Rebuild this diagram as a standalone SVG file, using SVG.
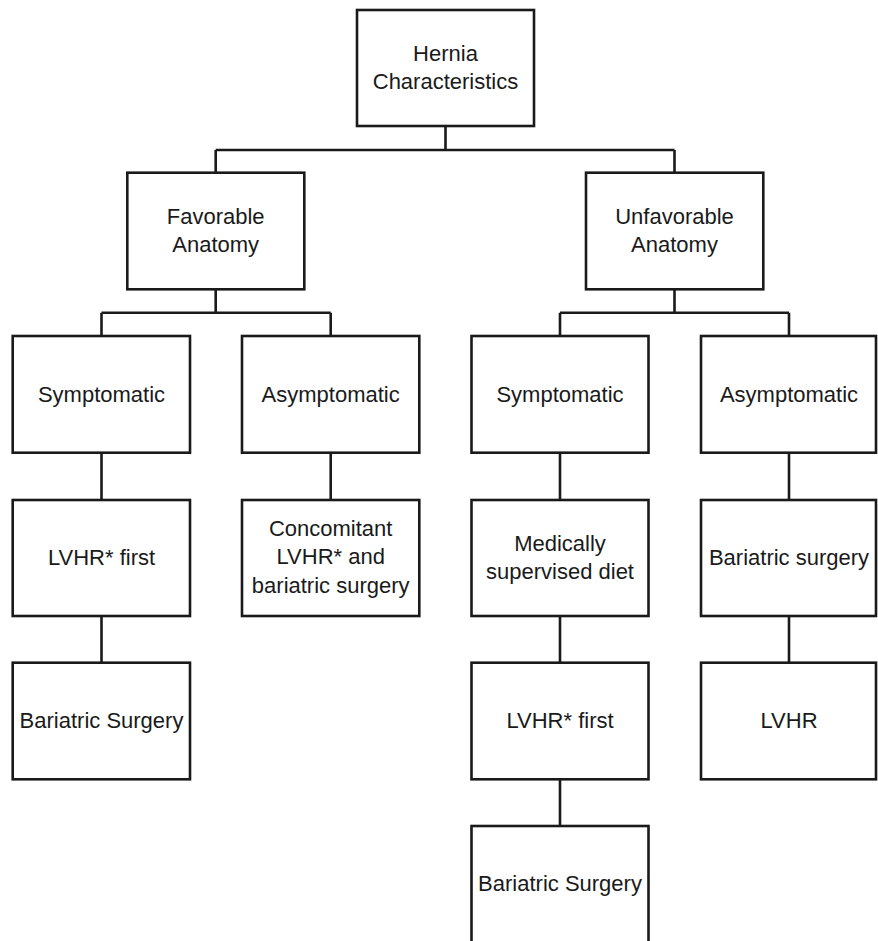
<svg xmlns="http://www.w3.org/2000/svg" width="878" height="941" viewBox="0 0 878 941">
<style>
.box{fill:#fff;stroke:#1a1a1a;stroke-width:2.6}
.t{font-family:"Liberation Sans",Arial,sans-serif;font-size:22px;fill:#1a1a1a;text-anchor:middle}
.c{fill:none;stroke:#1a1a1a;stroke-width:2.6}
</style>
<rect width="878" height="941" fill="#fff"/>
<g id="connectors">
<path class="c" d="M445.5,126 V150 M215.7,150 H674.5 M215.7,150 V172.7 M674.5,150 V172.7"/>
<path class="c" d="M215.7,289.3 V312.7 M101.5,312.7 H330.7 M101.5,312.7 V336 M330.7,312.7 V336"/>
<path class="c" d="M674.5,289.3 V312.7 M560,312.7 H789 M560,312.7 V336 M789,312.7 V336"/>
<path class="c" d="M101.5,452.7 V500 M101.5,616 V662.7"/>
<path class="c" d="M330.7,452.7 V500"/>
<path class="c" d="M560,452.7 V500 M560,616 V662.7 M560,779.3 V826"/>
<path class="c" d="M789,452.7 V500 M789,616 V662.7"/>
</g>
<g id="hernia"><rect class="box" x="357" y="10" width="177" height="116"/><text class="t" x="445.5" y="61">Hernia</text><text class="t" x="445.5" y="89">Characteristics</text></g>
<g id="favorable"><rect class="box" x="127.3" y="172.7" width="177" height="116.6"/><text class="t" x="215.7" y="224">Favorable</text><text class="t" x="215.7" y="252">Anatomy</text></g>
<g id="unfavorable"><rect class="box" x="586" y="172.7" width="177.3" height="116.6"/><text class="t" x="674.5" y="224">Unfavorable</text><text class="t" x="674.5" y="252">Anatomy</text></g>
<g id="fav-symptomatic"><rect class="box" x="12.7" y="336" width="177.3" height="116.7"/><text class="t" x="101.5" y="401.5">Symptomatic</text></g>
<g id="fav-asymptomatic"><rect class="box" x="242" y="336" width="177.3" height="116.7"/><text class="t" x="330.7" y="401.5">Asymptomatic</text></g>
<g id="unf-symptomatic"><rect class="box" x="471.5" y="336" width="177" height="116.7"/><text class="t" x="560" y="401.5">Symptomatic</text></g>
<g id="unf-asymptomatic"><rect class="box" x="701" y="336" width="175" height="116.7"/><text class="t" x="789" y="401.5">Asymptomatic</text></g>
<g id="fav-lvhr-first"><rect class="box" x="12.7" y="500" width="177.3" height="116"/><text class="t" x="101.5" y="565">LVHR* first</text></g>
<g id="concomitant"><rect class="box" x="242" y="500" width="177.3" height="116"/><text class="t" x="330.7" y="536">Concomitant</text><text class="t" x="330.7" y="564.3">LVHR* and</text><text class="t" x="330.7" y="592.6">bariatric surgery</text></g>
<g id="diet"><rect class="box" x="471.5" y="500" width="177" height="116"/><text class="t" x="560" y="551">Medically</text><text class="t" x="560" y="579">supervised diet</text></g>
<g id="unf-bariatric"><rect class="box" x="701" y="500" width="175" height="116"/><text class="t" x="789" y="565">Bariatric surgery</text></g>
<g id="fav-bariatric"><rect class="box" x="12.7" y="662.7" width="177.3" height="116.6"/><text class="t" x="101.5" y="727.5">Bariatric Surgery</text></g>
<g id="unf-lvhr-first"><rect class="box" x="471.5" y="662.7" width="177" height="116.6"/><text class="t" x="560" y="727.5">LVHR* first</text></g>
<g id="lvhr"><rect class="box" x="701" y="662.7" width="175" height="116.6"/><text class="t" x="789" y="727.5">LVHR</text></g>
<g id="unf-final-bariatric"><rect class="box" x="471.5" y="826" width="177" height="130"/><text class="t" x="560" y="891">Bariatric Surgery</text></g>
</svg>
